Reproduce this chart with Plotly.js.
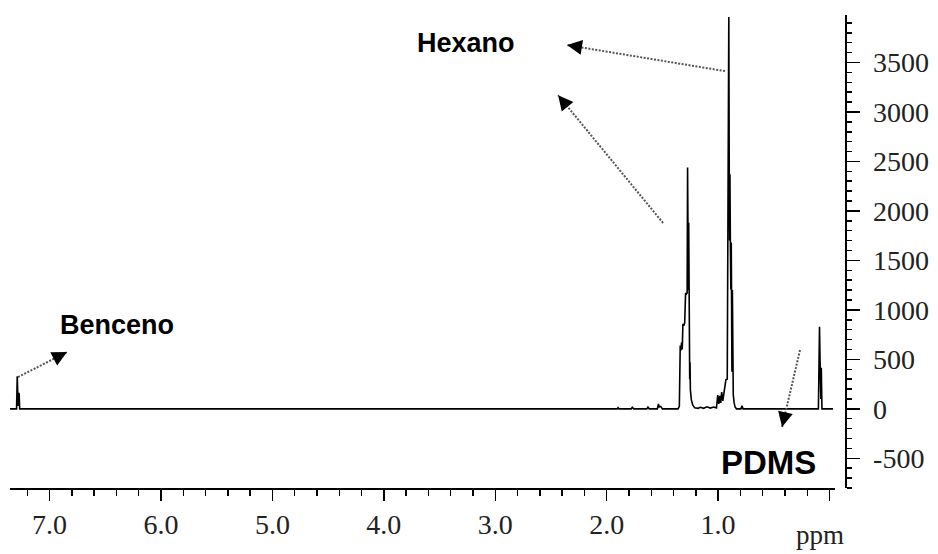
<!DOCTYPE html>
<html><head><meta charset="utf-8">
<script src="https://cdn.plot.ly/plotly-3.0.1.min.js"></script>
<style>html,body{margin:0;padding:0;background:#fff}</style>
</head><body>
<div id="chart" style="width:938px;height:554px"></div>
<script>
// Chemical shift (ppm) and signal intensity
const ppm = [7.355, 7.296, 7.290, 7.286, 7.282, 7.278, 7.273, 7.268,
  2.000, 1.905, 1.898, 1.890, 1.780, 1.770, 1.758, 1.640, 1.630, 1.618,
  1.545, 1.536, 1.528, 1.515, 1.500, 1.360, 1.348, 1.340, 1.334, 1.328,
  1.322, 1.316, 1.308, 1.300, 1.292, 1.284, 1.278, 1.274, 1.270, 1.267,
  1.264, 1.261, 1.258, 1.255, 1.252, 1.249, 1.240, 1.228, 1.210, 1.180,
  1.160, 1.130, 1.100, 1.070, 1.040, 1.015, 1.003, 0.994, 0.985, 0.977,
  0.968, 0.958, 0.944, 0.930, 0.918, 0.908, 0.904, 0.900, 0.897, 0.894,
  0.890, 0.886, 0.882, 0.879, 0.876, 0.872, 0.869, 0.864, 0.856, 0.848,
  0.835, 0.795, 0.786, 0.776, 0.100, 0.090, 0.084, 0.078, 0.074, 0.068, -0.031];
const intensity = [0, 0, 330, 150, 30, 160, 150, 0,
  0, 0, 12, 0, 0, 15, 0, 0, 18, 0,
  0, 50, 20, 25, 0, 0, 25, 640, 590, 670,
  600, 860, 840, 870, 1170, 1160, 1170, 2440, 1880, 1200,
  1880, 1170, 465, 300, 470, 190, 90, 40, 10, 5,
  15, 5, 20, 8, 18, 10, 140, 50, 130, 60,
  170, 80, 190, 295, 300, 2370, 3960, 2370, 1700, 2370,
  1680, 1205, 1680, 1205, 375, 1200, 375, 140, 60, 20,
  0, 0, 30, 0, 0, 830, 415, 100, 415, 0, 0];

const xTickVals = [0, 1, 2, 3, 4, 5, 6, 7];
const xTickText = ['', '1.0', '2.0', '3.0', '4.0', '5.0', '6.0', '7.0'];
const yTickVals = [-500, 0, 500, 1000, 1500, 2000, 2500, 3000, 3500];
const yTickText = ['-500', '0', '500', '1000', '1500', '2000', '2500', '3000', '3500'];
const xTitle = 'ppm';

// labels: text, position (ppm, intensity)
const labelText = ['Hexano', 'Benceno', 'PDMS'];
const labelX = [3.262, 6.394, 0.552];
const labelY = [3697, 847, -538];
const labelSize = [27, 27, 33];

// arrows: tail (ppm, intensity) -> tip (ppm, intensity); head direction offset (px)
const arrowTailX = [0.938, 1.494, 7.283, 0.265];
const arrowTailY = [3413, 1878, 321, 594];
const arrowTipX = [2.356, 2.436, 6.843, 0.426];
const arrowTipY = [3676, 3170, 574, -184];
const arrowAx = [11.8, 7.6, -10.7, 2.7];
const arrowAy = [1.9, 9.3, 5.5, -11.7];

const serif = 'Liberation Serif, Times New Roman, serif';
const sans = 'Liberation Sans, Arial, sans-serif';

const trace = {
  x: ppm, y: intensity, type: 'scatter', mode: 'lines',
  line: {color: '#000', width: 1.6}, hoverinfo: 'skip', showlegend: false
};

const shapes = arrowTailX.map((tx, i) => ({
  type: 'line', xref: 'x', yref: 'y',
  x0: tx, y0: arrowTailY[i], x1: arrowTipX[i], y1: arrowTipY[i],
  line: {color: '#555', width: 2, dash: '2px,1.5px'}
}));

const annotations = [];
labelText.forEach((t, i) => annotations.push({
  text: '<b>' + t + '</b>', x: labelX[i], y: labelY[i], xref: 'x', yref: 'y',
  showarrow: false, xanchor: 'center', yanchor: 'middle',
  font: {family: sans, size: labelSize[i], color: '#000'}
}));
arrowTipX.forEach((x, i) => annotations.push({
  text: '', x: x, y: arrowTipY[i], xref: 'x', yref: 'y',
  showarrow: true, ax: arrowAx[i], ay: arrowAy[i],
  arrowhead: 2, arrowsize: 2, arrowwidth: 1.5, arrowcolor: '#000'
}));
annotations.push({
  text: xTitle, x: 0.085, y: -0.1, xref: 'x', yref: 'paper',
  showarrow: false, xanchor: 'center', yanchor: 'middle',
  font: {family: serif, size: 27, color: '#222'}
});

const layout = {
  width: 938, height: 554,
  margin: {l: 10, r: 93, t: 15, b: 66},
  paper_bgcolor: '#fff', plot_bgcolor: '#fff',
  showlegend: false,
  xaxis: {
    range: [7.355, -0.049], domain: [0, 825 / 835],
    tickvals: xTickVals, ticktext: xTickText,
    ticks: 'outside', ticklen: 11, tickwidth: 1.5, tickcolor: '#000',
    showline: true, linecolor: '#000', linewidth: 1.5,
    showgrid: false, zeroline: false,
    tickfont: {family: serif, size: 28, color: '#222'},
    minor: {dtick: 0.2, tick0: 0, ticks: 'outside', ticklen: 6, tickwidth: 1.5, tickcolor: '#000', showgrid: false}
  },
  yaxis: {
    range: [-800, 3980], side: 'right', anchor: 'free', position: 1,
    tickvals: yTickVals, ticktext: yTickText,
    ticks: 'outside', ticklen: 13, tickwidth: 1.5, tickcolor: '#000',
    ticklabelstandoff: 8,
    showline: true, linecolor: '#000', linewidth: 1.5,
    showgrid: false, zeroline: false,
    tickfont: {family: serif, size: 28, color: '#222'},
    minor: {dtick: 100, tick0: 0, ticks: 'outside', ticklen: 5, tickwidth: 1.5, tickcolor: '#000', showgrid: false}
  },
  shapes: shapes,
  annotations: annotations
};

Plotly.newPlot('chart', [trace], layout, {displayModeBar: false, staticPlot: true});
</script>
</body></html>
